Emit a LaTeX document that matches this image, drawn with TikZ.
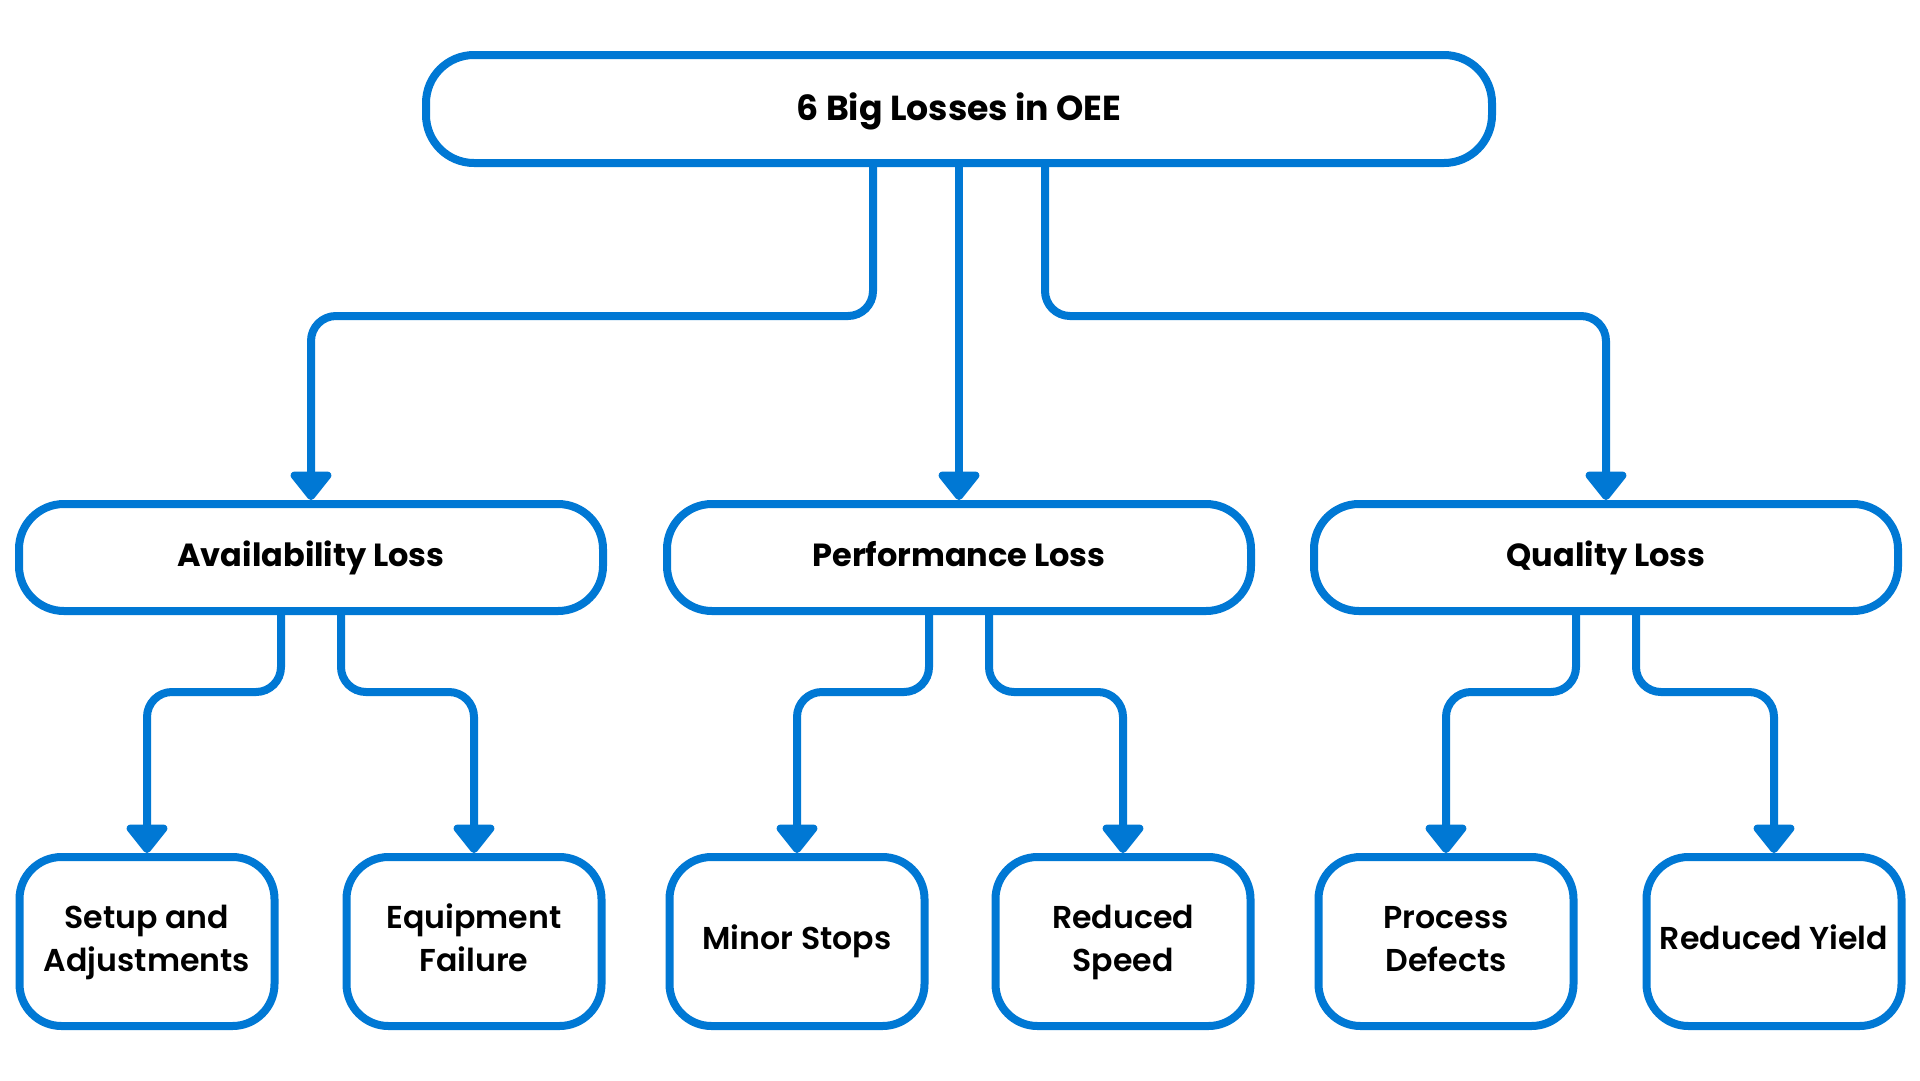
\documentclass[tikz,border=0pt]{standalone}
\usepackage{fontspec}
\setmainfont{Poppins}
\newfontface\sbfont{Poppins SemiBold}
\usetikzlibrary{arrows.meta}
\definecolor{oeeblue}{HTML}{0078D4}
\newcommand\lnst{\vphantom{dj}}
\begin{document}
\begin{tikzpicture}[x=1pt,y=-1pt,
  box/.style={draw=oeeblue, line width=8pt, fill=white, rectangle, inner sep=0pt, align=center, text=black},
  topbox/.style={box, rounded corners=48pt, minimum width=1066pt, minimum height=108pt, text height=25pt, text depth=1.2pt, font=\fontsize{34.7}{40}\selectfont\bfseries},
  midbox/.style={box, rounded corners=45pt, minimum width=584pt, minimum height=107pt, text height=23.7pt, text depth=5.2pt, font=\fontsize{32}{40}\selectfont\bfseries},
  leafbox/.style={box, rounded corners=42pt, minimum width=255pt, minimum height=169pt, font=\fontsize{31.6}{43}\sbfont},
  conn/.style={draw=oeeblue, line width=8pt, rounded corners=25pt, -{Triangle[width=47pt,length=31pt,round]}}
]
\fill[white] (0,0) rectangle (1920,1080);
\useasboundingbox (0,0) rectangle (1920,1080);

\node[topbox] (top) at (959,109) {6 Big Losses in OEE};

\node[midbox] (avail) at (311,557.5) {Availability Loss};
\node[midbox] (perf) at (959,557.5) {Performance Loss};
\node[midbox] (qual) at (1606,557.5) {Quality Loss};

\node[leafbox] (setup) at (147,941.5) {\lnst Setup and\\\lnst Adjustments};
\node[leafbox] (equip) at (474,941.5) {\lnst Equipment\\\lnst Failure};
\node[leafbox] (minor) at (797,941.5) {\lnst Minor Stops};
\node[leafbox] (rspeed) at (1123,941.5) {\lnst Reduced\\\lnst Speed};
\node[leafbox] (proc) at (1446,941.5) {\lnst Process\\\lnst Defects};
\node[leafbox] (ryield) at (1774,941.5) {\lnst Reduced Yield};

\coordinate (ha) at (600,316);
\coordinate (hq) at (1300,316);
\draw[conn] ([xshift=-86pt]top.south) |- (ha) -| (avail.north);
\draw[conn] (top.south) -- (perf.north);
\draw[conn] ([xshift=86pt]top.south) |- (hq) -| (qual.north);

\coordinate (la) at (214,692);
\coordinate (ra) at (408,692);
\draw[conn] ([xshift=-30pt]avail.south) |- (la) -| (setup.north);
\draw[conn] ([xshift=30pt]avail.south) |- (ra) -| (equip.north);

\coordinate (lp) at (862,692);
\coordinate (rp) at (1056,692);
\draw[conn] ([xshift=-30pt]perf.south) |- (lp) -| (minor.north);
\draw[conn] ([xshift=30pt]perf.south) |- (rp) -| (rspeed.north);

\coordinate (lq) at (1512,692);
\coordinate (rq) at (1706,692);
\draw[conn] ([xshift=-30pt]qual.south) |- (lq) -| (proc.north);
\draw[conn] ([xshift=30pt]qual.south) |- (rq) -| (ryield.north);
\end{tikzpicture}
\end{document}
